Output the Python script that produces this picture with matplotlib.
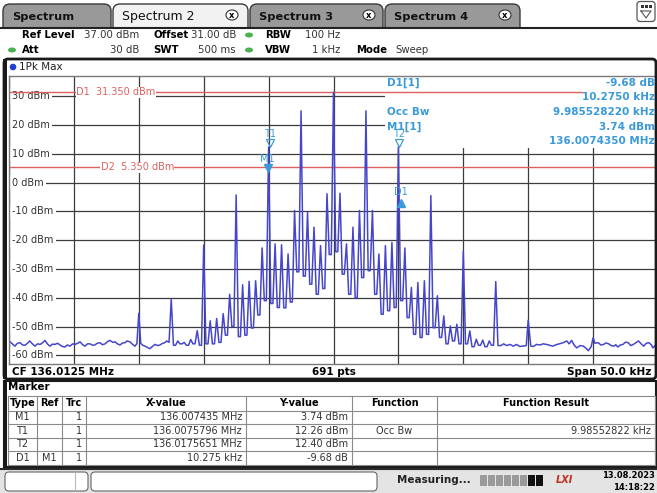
import matplotlib
matplotlib.use('Agg')
import matplotlib.pyplot as plt
from matplotlib.patches import FancyBboxPatch, Rectangle, Circle, Ellipse
import matplotlib.transforms as mtransforms

plt.rcParams['font.family'] = ['DejaVu Sans']

# ---------------- data ----------------
center_mhz = 136.0125
span_khz = 50.0
ref_level_dbm = 37.0
bottom_dbm = -63.0
y_ticks_dbm = [30, 20, 10, 0, -10, -20, -30, -40, -50, -60]
display_lines = [("D1", 31.35), ("D2", 5.35)]

# spectral comb lines (offset from start frequency, kHz)
comb_khz = [12.5, 13.0, 13.5, 14.0, 14.5, 15.0, 15.5, 16.0, 16.5, 17.0,
            17.5, 18.0, 18.5, 19.0, 19.5, 20.0, 20.5, 21.0, 21.5, 22.0,
            22.5, 23.0, 23.5, 24.0, 24.5, 25.0, 25.5, 26.0, 26.5, 27.0,
            27.5, 28.0, 28.5, 29.0, 29.5, 30.0, 30.5, 31.0, 31.5, 32.0,
            32.5, 33.0, 33.5, 34.0, 34.5, 35.0, 35.5, 36.0, 36.5, 37.0, 37.5]
comb_peak_dbm = [-40.5, -55.0, -55.5, -54.5, -51.4, -21.7, -48.0, -47.2, -45.5, -38.8,
                 -4.3, -35.5, -34.3, -34.1, -22.7, 12.3, -21.3, -21.6, -24.8, -9.7,
                 24.9, -10.3, -15.5, -21.9, -3.9, 31.35, -3.7, -21.3, -15.5, -9.7,
                 24.9, -9.7, -24.8, -21.9, -20.8, 12.4, -22.7, -36.4, -34.7, -34.1,
                 -4.5, -39.3, -46.3, -49.8, -49.2, -23.9, -51.5, -54.4, -54.7, -55.0, -34.4]
# valley levels: before first line, between lines, after last line
comb_valley_dbm = [-55.5, -56.5, -56.0, -56.5, -56.0, -56.5, -56.0, -56.0, -55.5, -53.0,
                   -50.0, -53.5, -53.0, -50.5, -46.0, -41.0, -42.0, -43.4, -43.5, -41.5,
                   -31.0, -32.5, -35.3, -38.8, -36.8, -25.0, -24.0, -31.8, -38.8, -40.0,
                   -33.0, -30.6, -38.8, -45.7, -44.5, -43.4, -41.0, -46.9, -52.7, -53.8,
                   -52.7, -50.4, -53.8, -56.0, -55.0, -56.0, -56.0, -57.0, -56.5, -57.0,
                   -56.5, -56.6]

floor_left_khz = [0.0, 0.3, 0.46, 0.65, 0.85, 1.05, 1.23, 1.4, 1.6, 1.8,
                  2.0, 2.2, 2.4, 2.6, 2.77, 2.95, 3.16, 3.35, 3.54, 3.75,
                  3.93, 4.1, 4.3, 4.5, 4.7, 4.9, 5.08, 5.3, 5.47, 5.65,
                  5.85, 6.05, 6.24, 6.45, 6.6, 6.8, 7.0, 7.2, 7.4, 7.6,
                  7.78, 8.0, 8.17, 8.35, 8.55, 8.75, 8.94, 9.1, 9.32, 9.5,
                  9.7, 9.85, 10.15, 10.3, 10.48, 10.65, 10.86, 11.05, 11.25, 11.45,
                  11.63, 11.8, 12.0, 12.15]
floor_left_dbm = [-55.0, -56.2, -56.8, -55.8, -55.6, -56.4, -56.5, -55.9, -55.0, -56.0,
                  -56.8, -56.0, -56.2, -55.6, -54.8, -56.0, -56.8, -56.1, -56.2, -55.8,
                  -56.4, -56.9, -57.1, -56.4, -56.8, -56.0, -56.2, -55.8, -55.3, -56.2,
                  -56.8, -56.0, -56.0, -56.5, -56.4, -55.8, -55.6, -56.3, -56.0, -55.2,
                  -54.8, -55.5, -55.3, -56.0, -56.4, -55.7, -55.6, -55.0, -55.3, -56.1,
                  -56.8, -56.0, -55.8, -56.5, -56.8, -57.2, -57.7, -56.9, -56.2, -56.6,
                  -56.4, -55.9, -55.6, -55.0]
floor_right_khz = [37.9, 38.1, 38.35, 38.6, 38.85, 39.1, 39.35, 39.6, 39.85, 40.2,
                   40.4, 40.65, 40.9, 41.15, 41.4, 41.65, 41.9, 42.15, 42.4, 42.7,
                   42.97, 43.15, 43.35, 43.55, 43.74, 44.0, 44.25, 44.45, 44.63, 44.85,
                   45.15, 45.4, 45.6, 45.8, 46.0, 46.2, 46.4, 46.6, 46.75, 46.9,
                   47.1, 47.3, 47.5, 47.7, 47.9, 48.1, 48.3, 48.5, 48.7, 48.9,
                   49.1, 49.3, 49.5, 49.6, 49.8, 50.0]
floor_right_dbm = [-56.6, -56.0, -56.6, -56.2, -56.8, -56.2, -56.9, -56.8, -56.6, -56.8,
                   -56.9, -56.2, -56.4, -56.0, -56.2, -56.5, -56.8, -56.3, -56.0, -55.6,
                   -55.0, -56.0, -54.8, -56.5, -57.4, -56.6, -56.8, -57.5, -58.4, -57.0,
                   -55.8, -55.6, -56.4, -56.2, -55.7, -56.0, -56.6, -56.8, -56.3, -57.1,
                   -56.4, -56.2, -55.4, -55.6, -56.6, -56.2, -55.6, -55.0, -56.0, -56.8,
                   -55.8, -55.6, -56.4, -57.4, -56.5, -56.2]
spur_khz = [10.0, 40.0, 45.0]
spur_dbm = [-45.4, -47.8, -53.9]

marker_names = ["M1", "T1", "T2", "D1"]
marker_mhz = [136.007435, 136.0075796, 136.0175651]
marker_dbm = [3.74, 12.26, 12.40]
delta_khz = 10.275
delta_db = -9.68

header_row1 = [("Ref Level", "37.00 dBm"), ("Offset", "31.00 dB"), ("RBW", "100 Hz")]
header_row2 = [("Att", "30 dB"), ("SWT", "500 ms"), ("VBW", "1 kHz")]
tabs = ["Spectrum", "Spectrum 2", "Spectrum 3", "Spectrum 4"]
info_left = ["D1[1]", "", "Occ Bw", "M1[1]", ""]
info_right = ["-9.68 dB", "10.2750 kHz", "9.985528220 kHz", "3.74 dBm", "136.0074350 MHz"]
table_header = ["Type", "Ref", "Trc", "X-value", "Y-value", "Function", "Function Result"]
table_rows = [["M1", "", "1", "136.007435 MHz", "3.74 dBm", "", ""],
              ["T1", "", "1", "136.0075796 MHz", "12.26 dBm", "Occ Bw", "9.98552822 kHz"],
              ["T2", "", "1", "136.0175651 MHz", "12.40 dBm", "", ""],
              ["D1", "M1", "1", "10.275 kHz", "-9.68 dB", "", ""]]

# ---------------- figure ----------------
W, H = 657, 493
fig = plt.figure(figsize=(W / 100, H / 100), dpi=100)
fig.patch.set_facecolor('white')

# spectrum axes (pixel box 9..658 x 76..364)
ax = fig.add_axes([9 / W, (H - 364) / H, 649 / W, 288 / H])
ax.set_zorder(1)
ax.set_xlim(0, span_khz)
ax.set_ylim(bottom_dbm, ref_level_dbm)
ax.set_xticks([i * span_khz / 10 for i in range(11)])
ax.set_yticks(y_ticks_dbm)
ax.set_axisbelow(True)
ax.grid(True, color='#3c3c3c', lw=0.9)
ax.tick_params(length=0, labelbottom=False, labelleft=False)
for s in ax.spines.values():
    s.set_color('#7a7a7a')
    s.set_linewidth(1.0)

# info box on top right
ax.add_patch(Rectangle((0.579, 0.75), 0.43, 0.26, transform=ax.transAxes,
                       fc='white', ec='none', zorder=1))

for v in y_ticks_dbm:
    ax.text(0.0045, v, f"{v} dBm", transform=ax.get_yaxis_transform(), ha='left',
            va='center', fontsize=7, color='#333333', zorder=1.5,
            bbox=dict(fc='white', ec='none', pad=1.8))

red = '#e06060'
ax.axhline(display_lines[0][1], xmax=0.883, color=red, lw=1.0, zorder=2)
ax.axhline(display_lines[1][1], color=red, lw=1.0, zorder=2)
ax.text(0.104, display_lines[0][1], f"{display_lines[0][0]}  {display_lines[0][1]:.3f} dBm",
        transform=ax.get_yaxis_transform(), ha='left', va='center', fontsize=7, color=red,
        zorder=2.1, bbox=dict(fc='white', ec='none', pad=0.4))
ax.text(0.141, display_lines[1][1], f"{display_lines[1][0]}  {display_lines[1][1]:.3f} dBm",
        transform=ax.get_yaxis_transform(), ha='left', va='center', fontsize=7, color=red,
        zorder=2.1, bbox=dict(fc='white', ec='none', pad=0.4))

# trace
hw = 0.17
pts = list(zip(floor_left_khz, floor_left_dbm)) + list(zip(floor_right_khz, floor_right_dbm))
pts += list(zip(spur_khz, spur_dbm))
for i, f in enumerate(comb_khz):
    pts += [(f - hw, comb_valley_dbm[i]), (f, comb_peak_dbm[i]), (f + hw, comb_valley_dbm[i + 1])]
pts.sort(key=lambda p: p[0])
ax.plot([p[0] for p in pts], [p[1] for p in pts], color='#4646cc', lw=1.1, zorder=2.5,
        solid_joinstyle='round')

# markers
start_mhz = center_mhz - span_khz / 2000.0
mk_khz = [(m - start_mhz) * 1000 for m in marker_mhz]
mk_khz.append(mk_khz[0] + delta_khz)
mk_dbm = list(marker_dbm) + [marker_dbm[0] + delta_db]
mcol = '#3a9ad9'
up4 = mtransforms.offset_copy(ax.transData, fig=fig, y=4, units='dots')
up13 = mtransforms.offset_copy(ax.transData, fig=fig, y=13, units='dots')
down3 = mtransforms.offset_copy(ax.transData, fig=fig, y=-3, units='dots')
up8 = mtransforms.offset_copy(ax.transData, fig=fig, y=8, units='dots')
for name, x, y in zip(marker_names, mk_khz, mk_dbm):
    if name == 'M1':
        ax.plot([x], [y], marker='v', ms=6, mfc=mcol, mec=mcol, transform=up4, zorder=4)
        ax.text(x, y, name, transform=up13, ha='center', va='center', fontsize=7, color=mcol, zorder=4)
    elif name.startswith('T'):
        ax.plot([x], [y], marker='v', ms=6, mfc='none', mec=mcol, mew=0.9, transform=up4, zorder=4)
        ax.text(x, y, name, transform=up13, ha='center', va='center', fontsize=7, color=mcol, zorder=4)
    else:
        ax.plot([x], [y], marker='^', ms=5.5, mfc=mcol, mec=mcol, transform=down3, zorder=4)
        ax.text(x, y, name, transform=up8, ha='center', va='center', fontsize=7, color=mcol, zorder=4)

# ---------------- UI overlay in pixel coordinates ----------------
ui = fig.add_axes([0, 0, 1, 1])
ui.set_zorder(2)
ui.patch.set_alpha(0)
ui.set_xlim(0, W)
ui.set_ylim(H, 0)
ui.axis('off')

# tabs
tab_x = [(3, 111), (113, 248), (250, 383), (385, 520)]
close_x = [None, 232, 369, 505]
for i, (name, (x0, x1)) in enumerate(zip(tabs, tab_x)):
    active = (i == 1)
    ui.add_patch(FancyBboxPatch((x0, 4), x1 - x0, 40,
                                boxstyle='round,pad=0,rounding_size=7',
                                fc='#f2f2f2' if active else '#999999',
                                ec='#3a3a3a', lw=1.0, zorder=1))
    if active:
        ui.text(x0 + 9, 16.5, name, ha='left', va='center', fontsize=9, color='#111111', zorder=2)
    else:
        ui.text(x0 + 9, 16.5, name, ha='left', va='center', fontsize=8.2, color='#111111',
                fontweight='bold', zorder=2)
    if close_x[i]:
        ui.add_patch(Ellipse((close_x[i], 15), 12, 10, fc='white', ec='#333333', lw=0.8, zorder=2))
        ui.text(close_x[i], 15.3, 'x', ha='center', va='center', fontsize=6, fontweight='bold', zorder=3)

# top right icon
ui.add_patch(FancyBboxPatch((637, 1.5), 18, 20, boxstyle='round,pad=0,rounding_size=3',
                            fc='white', ec='#555555', lw=0.9, zorder=2))
for k in range(3):
    ui.add_patch(Rectangle((640.5 + k * 4, 5), 3, 3, fc='#333333', ec='none', zorder=3))
ui.plot([641, 651, 646, 641], [11, 11, 18, 11], color='#555555', lw=0.8, zorder=3)

# header area
ui.add_patch(Rectangle((0, 27), W, 32, fc='white', ec='none', zorder=3))
ui.plot([0, W], [27.5, 27.5], color='#222222', lw=1.5, zorder=4)
lab_x = [22, 153, 265]
val_r = [139, 236, 340]
for (lab, val), lx, vr in zip(header_row1, lab_x, val_r):
    ui.text(lx, 35, lab, ha='left', va='center', fontsize=7.3, fontweight='bold', zorder=5)
    ui.text(vr, 35, val, ha='right', va='center', fontsize=7.3, color='#333333', zorder=5)
for (lab, val), lx, vr in zip(header_row2, lab_x, val_r):
    ui.text(lx, 50, lab, ha='left', va='center', fontsize=7.3, fontweight='bold', zorder=5)
    ui.text(vr, 50, val, ha='right', va='center', fontsize=7.3, color='#333333', zorder=5)
ui.text(356, 50, "Mode", ha='left', va='center', fontsize=7.3, fontweight='bold', zorder=5)
ui.text(395, 50, "Sweep", ha='left', va='center', fontsize=7.3, color='#333333', zorder=5)
for (gx, gy) in [(12, 50), (249, 35), (249, 50)]:
    ui.add_patch(Ellipse((gx, gy), 8, 5, fc='#4caf50', ec='none', zorder=5))

# spectrum window frame
ui.add_patch(FancyBboxPatch((4, 59), 652, 320, boxstyle='round,pad=0,rounding_size=4',
                            fc='none', ec='#1a1a1a', lw=2.0, zorder=5))
ui.add_patch(Rectangle((3, 59), 3.5, 320, fc='#1a1a1a', ec='none', zorder=5))
ui.add_patch(Circle((13, 67), 3.3, fc='#1f3fd0', ec='none', zorder=5))
ui.text(19, 67, "1Pk Max", ha='left', va='center', fontsize=7.5, color='#222222', zorder=5)

# info texts
info_y = [83, 97, 112, 127, 141]
for t, y in zip(info_left, info_y):
    if t:
        ui.text(387, y, t, ha='left', va='center', fontsize=7.5, fontweight='bold', color=mcol, zorder=5)
for t, y in zip(info_right, info_y):
    ui.text(655, y, t, ha='right', va='center', fontsize=7.5, fontweight='bold', color=mcol, zorder=5)

# CF row
ui.text(12, 372, f"CF {center_mhz:.4f} MHz", ha='left', va='center', fontsize=7.5, fontweight='bold', zorder=5)
ui.text(334, 372, "691 pts", ha='center', va='center', fontsize=7.5, fontweight='bold', zorder=5)
ui.text(651, 372, f"Span {span_khz:.1f} kHz", ha='right', va='center', fontsize=7.5, fontweight='bold', zorder=5)

# marker table window
ui.add_patch(Rectangle((4, 381), 652, 86, fc='white', ec='#1a1a1a', lw=1.5, zorder=5))
ui.add_patch(Rectangle((3, 381), 3.5, 86, fc='#1a1a1a', ec='none', zorder=5))
ui.text(8, 387, "Marker", ha='left', va='center', fontsize=7.5, fontweight='bold', zorder=6)
col_edges = [8, 37, 62, 86, 246, 352, 437, 655]
row_edges = [396, 410.5, 424, 437.5, 451, 465]
tcol = '#8a8a8a'
ui.plot([col_edges[0], col_edges[-1]], [row_edges[0]] * 2, color=tcol, lw=0.8, zorder=6)
for y in row_edges[1:]:
    ui.plot([col_edges[0], col_edges[-1]], [y, y], color=tcol, lw=0.8, zorder=6)
for x in col_edges:
    ui.plot([x, x], [row_edges[0], row_edges[-1]], color=tcol, lw=0.8, zorder=6)
for j, h in enumerate(table_header):
    cx = (col_edges[j] + col_edges[j + 1]) / 2
    ui.text(cx, 403.5, h, ha='center', va='center', fontsize=7, fontweight='bold', zorder=6)
align = ['center', 'center', 'right', 'right', 'right', 'center', 'right']
for r, row in enumerate(table_rows):
    y = (row_edges[r + 1] + row_edges[r + 2]) / 2
    for j, t in enumerate(row):
        if not t:
            continue
        if align[j] == 'center':
            x = (col_edges[j] + col_edges[j + 1]) / 2
        else:
            x = col_edges[j + 1] - 4
        ui.text(x, y, t, ha=align[j], va='center', fontsize=7, color='#333333', zorder=6)

# status bar
ui.add_patch(Rectangle((0, 468), W, 25, fc='#e4e4e4', ec='none', zorder=5))
ui.plot([0, W], [468.5, 468.5], color='#2a2a2a', lw=1.5, zorder=6)
ui.add_patch(FancyBboxPatch((5, 472), 83, 19, boxstyle='round,pad=0,rounding_size=4',
                            fc='white', ec='#666666', lw=0.8, zorder=6))
ui.plot([75, 75], [473, 490], color='#bbbbbb', lw=0.8, zorder=7)
ui.add_patch(FancyBboxPatch((91, 472), 286, 19, boxstyle='round,pad=0,rounding_size=4',
                            fc='white', ec='#666666', lw=0.8, zorder=6))
ui.text(397, 480, "Measuring...", ha='left', va='center', fontsize=7.5, fontweight='bold',
        color='#222222', zorder=6)
for k in range(8):
    c = '#9a9a9a' if k < 6 else '#111111'
    ui.add_patch(Rectangle((480 + k * 8, 475), 6.5, 11, fc=c, ec='none', zorder=6))
ui.text(564, 480, "LXI", ha='center', va='center', fontsize=7, fontweight='bold', style='italic',
        color='#c03020', zorder=6)
ui.text(655, 476, "13.08.2023", ha='right', va='center', fontsize=6, fontweight='bold', zorder=6)
ui.text(655, 487, "14:18:22", ha='right', va='center', fontsize=6, fontweight='bold', zorder=6)

fig.savefig('out.png', dpi=100)
